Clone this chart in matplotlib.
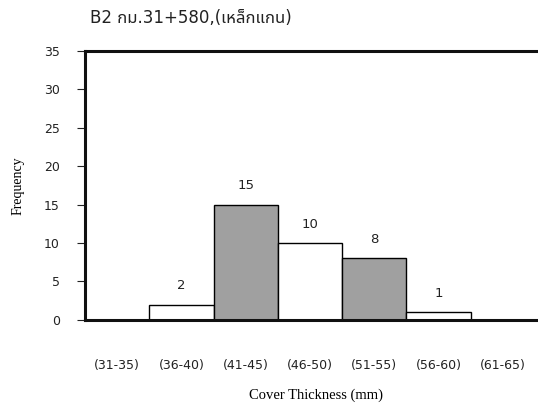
import matplotlib
matplotlib.use("Agg")
import matplotlib.pyplot as plt

plt.rcParams['font.family'] = ['DejaVu Sans', 'Noto Sans Thai', 'Sarabun', 'Athiti']

# data
bins = ["(31-35)", "(36-40)", "(41-45)", "(46-50)", "(51-55)", "(56-60)", "(61-65)"]
freq = [0, 2, 15, 10, 8, 1, 0]
title = "B2 กม.31+580,(เหล็กแกน)"

colors = ["#a0a0a0" if i % 2 == 0 else "white" for i in range(len(bins))]

fig = plt.figure(figsize=(5.38, 4.07), dpi=100)
ax = fig.add_axes([0.158, 0.214, 0.86, 0.661])

x = list(range(len(bins)))
ax.bar(x, freq, width=1.0, color=colors, edgecolor="black", linewidth=1.0, zorder=2)

for xi, v in zip(x, freq):
    if v > 0:
        ax.text(xi, v + 1.6, str(v), ha="center", va="bottom", fontsize=9.5, color="#222222")

ax.set_xlim(-0.5, 6.7)
ax.set_ylim(0, 35)
ax.set_yticks(range(0, 36, 5))
ax.set_xticks(x)
ax.set_xticklabels(bins, fontsize=9, color="#222222")
ax.tick_params(axis="x", length=0, pad=28)
ax.tick_params(axis="y", labelsize=9, colors="#222222", length=6, width=0.8,
               direction="out", pad=12)

for s in ["left", "bottom", "top"]:
    ax.spines[s].set_linewidth(2.2)
    ax.spines[s].set_color("#111111")
ax.spines["right"].set_visible(False)

ax.set_ylabel("Frequency", fontsize=10, family="Liberation Serif", labelpad=14)
ax.set_xlabel("Cover Thickness (mm)", fontsize=10.5, family="Liberation Serif", labelpad=12)

fig.text(0.167, 0.955, title, fontsize=12, ha="left", va="center", color="#222222")

fig.savefig("out.png", dpi=100)
